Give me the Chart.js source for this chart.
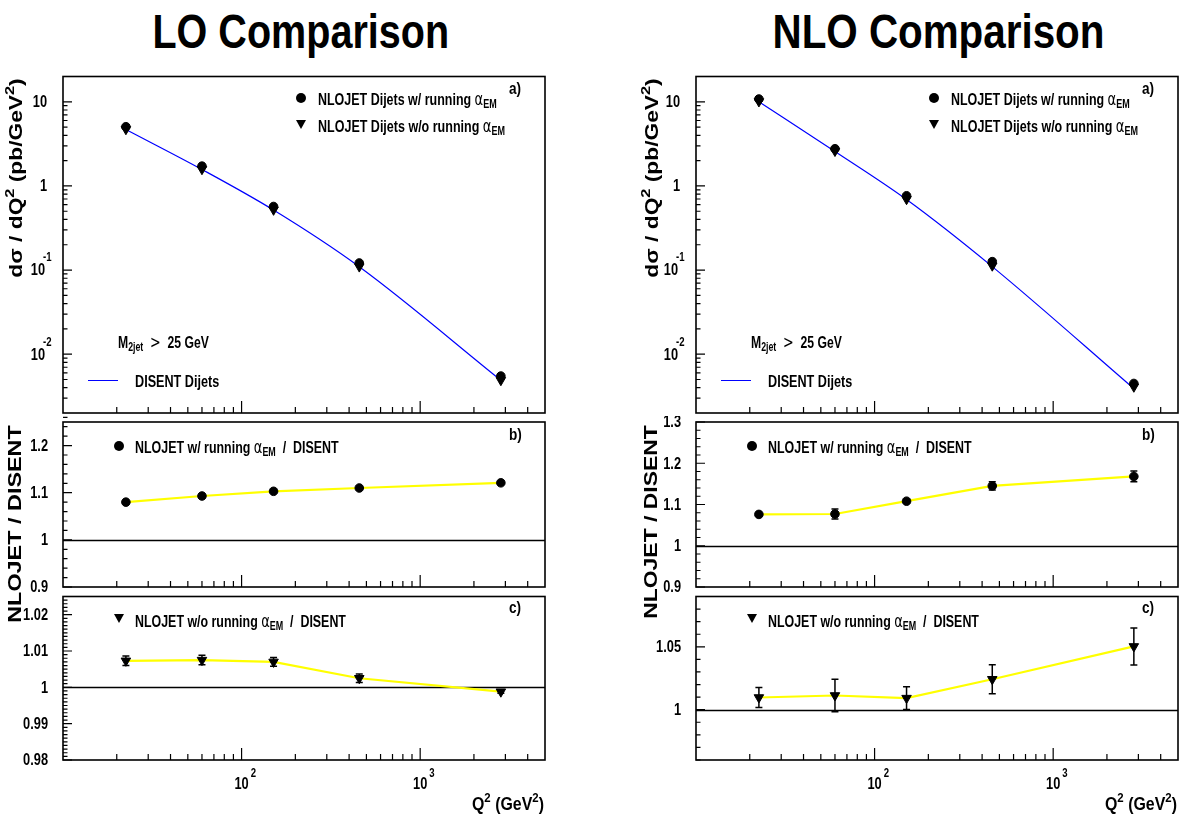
<!DOCTYPE html>
<html><head><meta charset="utf-8">
<script src="https://cdn.jsdelivr.net/npm/chart.js@4.4.1/dist/chart.umd.min.js"></script>
<style>
html,body{margin:0;padding:0;background:#fff;}
body{width:1185px;height:819px;position:relative;overflow:hidden;}
canvas{position:absolute;}
.t{position:absolute;white-space:nowrap;line-height:1;font-weight:bold;font-family:'Liberation Sans',Arial,sans-serif;color:#000;}
.t sub,.t sup{position:relative;vertical-align:baseline;font-size:0.72em;line-height:0;}
.t sup{top:-0.55em;}
.t sub{top:0.3em;}
.g{font-weight:normal;font-family:'DejaVu Sans',sans-serif;font-size:1.05em;}
.mk{position:absolute;}
</style></head><body>
<script>
// ---------------- data ----------------
const q2Centers = [22.5, 60, 151, 456, 2830];

const loDisent      = [4.69, 1.57, 0.517, 0.1095, 0.0049];
const loWithRun     = [5.06, 1.72, 0.57, 0.1215, 0.0055];
const loWithoutRun  = [4.72, 1.58, 0.52, 0.110, 0.0049];
const loRatioWith      = [1.080, 1.093, 1.103, 1.110, 1.121];
const loRatioWithErr   = [0.002, 0.002, 0.002, 0.002, 0.003];
const loRatioWithout   = [1.0073, 1.0075, 1.0070, 1.0025, 0.9988];
const loRatioWithoutErr= [0.0013, 0.0013, 0.0012, 0.0012, 0.0004];

const nloDisent     = [10.0, 2.57, 0.69, 0.110, 0.0039];
const nloWithRun    = [10.8, 2.77, 0.764, 0.126, 0.00449];
const nloWithoutRun = [10.1, 2.60, 0.696, 0.1127, 0.0041];
const nloRatioWith      = [1.076, 1.077, 1.108, 1.145, 1.168];
const nloRatioWithErr   = [0.003, 0.012, 0.004, 0.010, 0.013];
const nloRatioWithout   = [1.0097, 1.0113, 1.0092, 1.0242, 1.0503];
const nloRatioWithoutErr= [0.008, 0.013, 0.009, 0.0115, 0.0147];

// tick labels
const xTickValues = [100, 1000];
const xTickLabels = ['10^2', '10^3'];
const sigmaTickValues = [0.01, 0.1, 1, 10];
const sigmaTickLabels = ['10^-2', '10^-1', '1', '10'];
const loRatioBTickValues = [0.9, 1, 1.1, 1.2];
const loRatioBTickLabels = ['0.9', '1', '1.1', '1.2'];
const loRatioCTickValues = [0.98, 0.99, 1, 1.01, 1.02];
const loRatioCTickLabels = ['0.98', '0.99', '1', '1.01', '1.02'];
const nloRatioBTickValues = [0.9, 1, 1.1, 1.2, 1.3];
const nloRatioBTickLabels = ['0.9', '1', '1.1', '1.2', '1.3'];
const nloRatioCTickValues = [1, 1.05];
const nloRatioCTickLabels = ['1', '1.05'];

// ---------------- helpers ----------------
function logMinors(lo, hi) {
  const out = [];
  for (let d = Math.floor(Math.log10(lo)) - 1; d <= Math.ceil(Math.log10(hi)); d++)
    for (let m = 2; m <= 9; m++) { const v = m * Math.pow(10, d); if (v > lo * 1.0001 && v < hi * 0.9999) out.push(v); }
  return out;
}
function linMinors(lo, hi, step) {
  const out = []; const n = Math.round((hi - lo) / step);
  for (let i = 0; i <= n; i++) out.push(+(lo + i * step).toFixed(6));
  return out;
}
const pts = (xs, ys) => xs.map((x, i) => ({x, y: ys[i]}));
const FONT = '"Liberation Sans", Arial, sans-serif';
const KX = 0.8;

function drawScaled(ctx, text, x, y, size, align) {
  ctx.save();
  ctx.font = 'bold ' + size + 'px ' + FONT;
  const w = ctx.measureText(text).width * KX;
  let x0 = x;
  if (align === 'right') x0 = x - w; else if (align === 'center') x0 = x - w / 2;
  ctx.translate(x0, y); ctx.scale(KX, 1);
  ctx.textAlign = 'left'; ctx.fillStyle = '#000';
  ctx.fillText(text, 0, 0);
  ctx.restore();
  return w;
}

function axesPlugin(conf) {
  return {
    id: 'rootAxes',
    beforeDatasetsDraw(chart) {
      if (!conf.unity) return;
      const {ctx, chartArea: a, scales: {y}} = chart;
      const py = Math.round(y.getPixelForValue(1)) + 0.5;
      ctx.save(); ctx.strokeStyle = '#000'; ctx.lineWidth = 1.4;
      ctx.beginPath(); ctx.moveTo(a.left, py); ctx.lineTo(a.right, py); ctx.stroke(); ctx.restore();
    },
    afterDatasetsDraw(chart) {
      if (!conf.errors) return;
      const {ctx, scales: {x, y}} = chart;
      ctx.save(); ctx.strokeStyle = '#000'; ctx.lineWidth = 1.5;
      conf.errors.forEach(e => {
        e.xs.forEach((xv, i) => {
          const px = x.getPixelForValue(xv);
          const p1 = y.getPixelForValue(e.ys[i] + e.err[i]);
          const p2 = y.getPixelForValue(e.ys[i] - e.err[i]);
          ctx.beginPath();
          ctx.moveTo(px, p1); ctx.lineTo(px, p2);
          ctx.moveTo(px - 3.5, p1); ctx.lineTo(px + 3.5, p1);
          ctx.moveTo(px - 3.5, p2); ctx.lineTo(px + 3.5, p2);
          ctx.stroke();
        });
      });
      ctx.restore();
    },
    afterDraw(chart) {
      const {ctx, chartArea: a, scales: {x, y}} = chart;
      ctx.save();
      ctx.strokeStyle = '#000';
      ctx.lineWidth = 1.2;
      ctx.beginPath();
      conf.xMajor.forEach(v => { const p = x.getPixelForValue(v); ctx.moveTo(p, a.bottom); ctx.lineTo(p, a.bottom - 12); });
      conf.xMinor.forEach(v => { const p = x.getPixelForValue(v); ctx.moveTo(p, a.bottom); ctx.lineTo(p, a.bottom - 6); });
      conf.yMajor.forEach(v => { const p = y.getPixelForValue(v); ctx.moveTo(a.left, p); ctx.lineTo(a.left + 9, p); });
      conf.yMinor.forEach(v => { const p = y.getPixelForValue(v); ctx.moveTo(a.left, p); ctx.lineTo(a.left + 4.5, p); });
      ctx.stroke();
      ctx.lineWidth = 1.6;
      ctx.strokeRect(a.left, a.top, a.right - a.left, a.bottom - a.top);
      ctx.restore();
      // y labels
      ctx.save(); ctx.textBaseline = 'middle';
      conf.yLabelValues.forEach((v, i) => {
        const p = y.getPixelForValue(v);
        const lab = conf.yLabels[i];
        if (lab.indexOf('^') >= 0) {
          const [b, e] = lab.split('^');
          const xr = a.left - conf.yGap - 2;
          drawScaled(ctx, b, xr, p + 1, 16, 'right');
          drawScaled(ctx, e, xr - 2, p - 12, 12, 'left');
        } else {
          drawScaled(ctx, lab, a.left - conf.yGap, p + 1, 16, 'right');
        }
      });
      ctx.restore();
      if (conf.xLabels) {
        ctx.save(); ctx.textBaseline = 'alphabetic';
        xTickValues.forEach((v, i) => {
          const p = x.getPixelForValue(v);
          const [b, e] = conf.xLabels[i].split('^');
          const w = drawScaled(ctx, b, p, a.bottom + 29, 16, 'center');
          drawScaled(ctx, e, p + w / 2 + 2, a.bottom + 17, 12, 'left');
        });
        ctx.restore();
      }
    }
  };
}

// ---------------- layout ----------------
const COLS = [
  {left: 0, width: 590, padL: 63, padR: 45},
  {left: 600, width: 585, padL: 96, padR: 7}
];
const ROWS = {
  top: {top: 70, h: 350, padT: 6, padB: 7},
  mid: {top: 416, h: 178, padT: 6, padB: 7},
  bot: {top: 590, h: 229, padT: 6, padB: 59}
};

const xMinorTicks = logMinors(10, 5000);

function makePanel(col, row, datasets, yScale, conf) {
  const c = document.createElement('canvas');
  c.width = col.width; c.height = row.h;
  c.style.left = col.left + 'px'; c.style.top = row.top + 'px';
  document.body.appendChild(c);
  conf.xMajor = xTickValues; conf.xMinor = xMinorTicks;
  new Chart(c.getContext('2d'), {
    type: 'line',
    data: {datasets},
    options: {
      responsive: false, animation: false, devicePixelRatio: 1,
      layout: {padding: {left: col.padL, right: col.padR, top: row.padT, bottom: row.padB}},
      scales: {
        x: {type: 'logarithmic', min: 10, max: 5000, display: false},
        y: Object.assign({display: false}, yScale)
      },
      plugins: {legend: {display: false}, tooltip: {enabled: false}}
    },
    plugins: [axesPlugin(conf)]
  });
}

function topSets(dis, wRun, woRun) {
  return [
    {label: 'DISENT Dijets', data: pts(q2Centers, dis), borderColor: '#0000ff', borderWidth: 1.2,
     pointRadius: 0, cubicInterpolationMode: 'monotone', order: 3},
    {label: 'NLOJET Dijets w/o running', data: pts(q2Centers, woRun), showLine: false, pointStyle: 'triangle',
     rotation: 180, pointRadius: 5.5, backgroundColor: '#000', borderColor: '#000', borderWidth: 1, order: 2},
    {label: 'NLOJET Dijets w/ running', data: pts(q2Centers, wRun), showLine: false, pointStyle: 'circle',
     pointRadius: 4.3, backgroundColor: '#000', borderColor: '#000', borderWidth: 1, order: 1}
  ];
}
function ratioSet(vals, style) {
  return [{label: 'ratio', data: pts(q2Centers, vals), borderColor: '#ffff00', borderWidth: 2.2, tension: 0,
    pointStyle: style, rotation: style === 'triangle' ? 180 : 0, pointRadius: style === 'triangle' ? 5.5 : 4.3,
    pointBackgroundColor: '#000', pointBorderColor: '#000', pointBorderWidth: 1}];
}

const sigmaMinor = logMinors(0.002, 20);

// LO column
makePanel(COLS[0], ROWS.top, topSets(loDisent, loWithRun, loWithoutRun),
  {type: 'logarithmic', min: 0.002, max: 20},
  {yMajor: sigmaTickValues, yMinor: sigmaMinor, yLabelValues: sigmaTickValues, yLabels: sigmaTickLabels, yGap: 16});
makePanel(COLS[0], ROWS.mid, ratioSet(loRatioWith, 'circle'),
  {type: 'linear', min: 0.9, max: 1.25},
  {yMajor: loRatioBTickValues, yMinor: linMinors(0.9, 1.25, 0.02), yLabelValues: loRatioBTickValues, yLabels: loRatioBTickLabels, yGap: 15,
   unity: true, errors: [{xs: q2Centers, ys: loRatioWith, err: loRatioWithErr}]});
makePanel(COLS[0], ROWS.bot, ratioSet(loRatioWithout, 'triangle'),
  {type: 'linear', min: 0.98, max: 1.025},
  {yMajor: loRatioCTickValues, yMinor: linMinors(0.98, 1.025, 0.001), yLabelValues: loRatioCTickValues, yLabels: loRatioCTickLabels, yGap: 15,
   unity: true, errors: [{xs: q2Centers, ys: loRatioWithout, err: loRatioWithoutErr}], xLabels: xTickLabels});

// NLO column
makePanel(COLS[1], ROWS.top, topSets(nloDisent, nloWithRun, nloWithoutRun),
  {type: 'logarithmic', min: 0.002, max: 20},
  {yMajor: sigmaTickValues, yMinor: sigmaMinor, yLabelValues: sigmaTickValues, yLabels: sigmaTickLabels, yGap: 16});
makePanel(COLS[1], ROWS.mid, ratioSet(nloRatioWith, 'circle'),
  {type: 'linear', min: 0.9, max: 1.3},
  {yMajor: nloRatioBTickValues, yMinor: linMinors(0.9, 1.3, 0.02), yLabelValues: nloRatioBTickValues, yLabels: nloRatioBTickLabels, yGap: 15,
   unity: true, errors: [{xs: q2Centers, ys: nloRatioWith, err: nloRatioWithErr}]});
makePanel(COLS[1], ROWS.bot, ratioSet(nloRatioWithout, 'triangle'),
  {type: 'linear', min: 0.96, max: 1.09},
  {yMajor: nloRatioCTickValues, yMinor: linMinors(0.96, 1.09, 0.01), yLabelValues: nloRatioCTickValues, yLabels: nloRatioCTickLabels, yGap: 15,
   unity: true, errors: [{xs: q2Centers, ys: nloRatioWithout, err: nloRatioWithoutErr}], xLabels: xTickLabels});

// ---------------- text ----------------
function txt(html, x, baseline, size, opts) {
  opts = opts || {};
  const d = document.createElement('div');
  d.className = 't'; d.innerHTML = html;
  d.style.fontSize = size + 'px';
  document.body.appendChild(d);
  const w = d.offsetWidth;
  const k = opts.width ? opts.width / w : (opts.k || KX);
  const align = opts.align || 'left';
  let left = x, origin = '0 0';
  if (align === 'center') { left = x - w / 2; origin = '50% 0'; }
  if (align === 'right') { left = x - w; origin = '100% 0'; }
  d.style.left = left + 'px';
  d.style.top = (baseline - 0.846 * size) + 'px';
  d.style.transformOrigin = origin;
  d.style.transform = 'scaleX(' + k + ')';
  return d;
}
function rot(html, cx, cy, size, len) {
  const d = document.createElement('div');
  d.className = 't'; d.innerHTML = html;
  d.style.fontSize = size + 'px';
  document.body.appendChild(d);
  const k = len / d.offsetWidth;
  d.style.left = cx + 'px'; d.style.top = cy + 'px';
  d.style.transform = 'translate(-50%,-50%) rotate(-90deg) scaleX(' + k + ')';
}
function mark(type, cx, cy) {
  const d = document.createElement('div'); d.className = 'mk';
  if (type === 'circle') {
    Object.assign(d.style, {width: '10px', height: '10px', borderRadius: '50%', background: '#000', left: (cx - 5) + 'px', top: (cy - 5) + 'px'});
  } else if (type === 'triangle') {
    Object.assign(d.style, {width: 0, height: 0, borderLeft: '5px solid transparent', borderRight: '5px solid transparent',
      borderTop: '9px solid #000', left: (cx - 5) + 'px', top: (cy - 4.5) + 'px'});
  } else {
    Object.assign(d.style, {width: '30px', height: '0px', borderTop: '1.5px solid #0000ff', left: cx + 'px', top: cy + 'px'});
  }
  document.body.appendChild(d);
}

const alpha = '<span class="g">&alpha;</span><sub>EM</sub>';
txt('LO Comparison', 300.5, 48, 49, {width: 297, align: 'center'});
txt('NLO Comparison', 938, 48, 49, {width: 332, align: 'center'});

[0, 633].forEach(dx => {
  mark('circle', 301 + dx, 98);
  txt('NLOJET Dijets w/ running ' + alpha, 318 + dx, 104, 17, {width: 179});
  mark('triangle', 301 + dx, 124);
  txt('NLOJET Dijets w/o running ' + alpha, 318 + dx, 131, 17, {width: 187});
  txt('a)', 509 + dx, 94, 17);
  txt('M<sub>2jet</sub>&nbsp;&nbsp;<span class="g">&gt;</span>&nbsp;&nbsp;25 GeV', 118 + dx, 347, 17, {width: 91});
  mark('line', 88 + dx, 380);
  txt('DISENT Dijets', 135 + dx, 387.5, 17, {width: 84});
  mark('circle', 118.5 + dx, 446);
  txt('NLOJET w/ running ' + alpha + '&nbsp;&nbsp;/&nbsp;&nbsp;DISENT', 135 + dx, 452, 17, {width: 204});
  txt('b)', 509 + dx, 440, 17);
  mark('triangle', 118.5 + dx, 618);
  txt('NLOJET w/o running ' + alpha + '&nbsp;&nbsp;/&nbsp;&nbsp;DISENT', 135 + dx, 626, 17, {width: 211});
  txt('c)', 509 + dx, 613, 17);
  txt('Q<sup>2</sup> (GeV<sup>2</sup>)', 544 + dx, 810, 19, {width: 72, align: 'right'});
});

rot('d&sigma; / dQ<sup>2</sup> (pb/GeV<sup>2</sup>)', 15, 178, 19, 200);
rot('d&sigma; / dQ<sup>2</sup> (pb/GeV<sup>2</sup>)', 651, 178, 19, 200);
rot('NLOJET / DISENT', 14, 524, 19, 197);
rot('NLOJET / DISENT', 650, 522, 19, 193);
</script>
</body></html>
